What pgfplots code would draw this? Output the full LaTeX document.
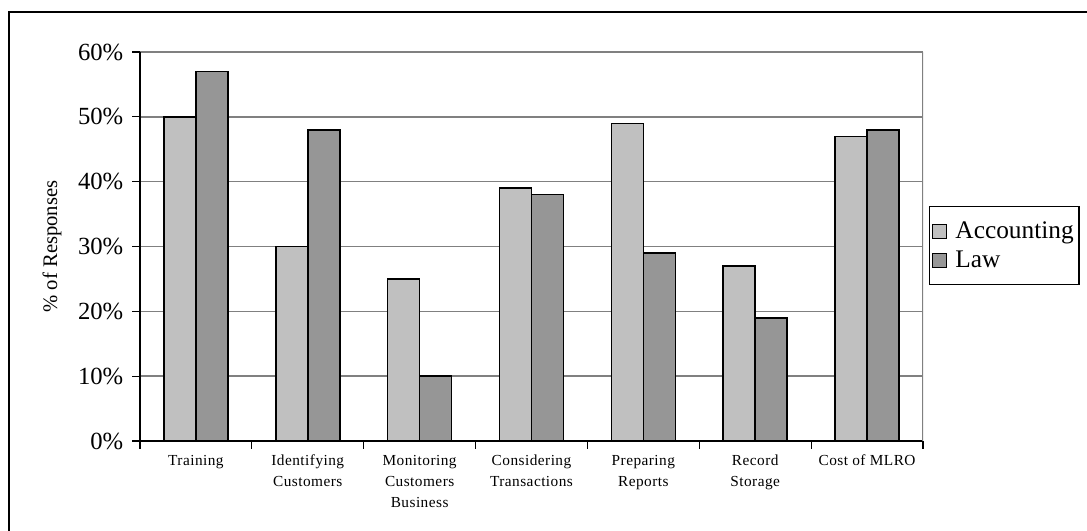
\documentclass[border=0pt]{standalone}
\usepackage{pgfplots}
\pgfplotsset{compat=1.18}
\usepackage{fontspec}
\setmainfont{Liberation Serif}
\newfontfamily\catfont[LetterSpace=3]{Liberation Serif}
\definecolor{barA}{HTML}{C0C0C0}
\definecolor{barB}{HTML}{969696}
\definecolor{gridc}{HTML}{808080}
\begin{document}
\begin{tikzpicture}
\clip (0,0) rectangle (815.25pt,398.25pt);
\draw[line width=1pt] (6.75pt,-10pt) -- (6.75pt,389.25pt) -- (830pt,389.25pt);
\begin{axis}[
  at={(105pt,67.5pt)}, anchor=south west,
  scale only axis, width=587.25pt, height=291.75pt,
  xmin=-0.5, xmax=6.5, ymin=0, ymax=60,
  axis x line*=bottom, axis y line*=left,
  axis line style={black, line width=0.8pt, -},
  ybar=0pt, bar width=24pt,
  ytick={0,10,...,60},
  yticklabels={0\%,10\%,20\%,30\%,40\%,50\%,60\%},
  yticklabel style={font=\fontsize{18.5}{22}\selectfont, xshift=-3pt},
  ymajorgrids, grid style={gridc, line width=1pt},
  tick align=outside, major tick length=6pt,
  tick style={black, line width=0.8pt},
  xtick={-0.5,0.5,...,6.5}, xticklabels={},
  extra x ticks={0,1,2,3,4,5,6},
  extra x tick labels={Training, Identifying\\Customers, Monitoring\\Customers\\Business, Considering\\Transactions, Preparing\\Reports, Record\\Storage, Cost of MLRO},
  extra x tick style={major tick length=0pt, grid=none},
  xticklabel style={align=center, font=\catfont\fontsize{11.5}{15.75}\selectfont, yshift=-7pt},
  ylabel={\% of Responses},
  every axis y label/.style={at={(axis description cs:-0.1124,0.5)}, rotate=90, anchor=center, font=\fontsize{15.5}{18}\selectfont},
  legend style={at={(axis description cs:1.00766,0.604)}, anchor=north west, draw=black, line width=0.8pt, font=\fontsize{19}{22.5}\selectfont, inner xsep=2pt, inner ysep=9.5pt, row sep=3.75pt, cells={anchor=west}},
  legend image code/.code={\draw[#1, line width=0.8pt] (5pt,-5.25pt) rectangle (15.5pt,5.25pt); \path (19.5pt,0pt);},
]
\addplot[fill=barA, draw=black, line width=1.1pt] coordinates {(0,50) (1,30) (2,25) (3,39) (4,49) (5,27) (6,47)};
\addlegendentry{Accounting}
\addplot[fill=barB, draw=black, line width=1.1pt] coordinates {(0,57) (1,48) (2,10) (3,38) (4,29) (5,19) (6,48)};
\addlegendentry{Law}
\draw[gridc, line width=1pt] (rel axis cs:1,0) -- (rel axis cs:1,1);
\end{axis}
\end{tikzpicture}
\end{document}
